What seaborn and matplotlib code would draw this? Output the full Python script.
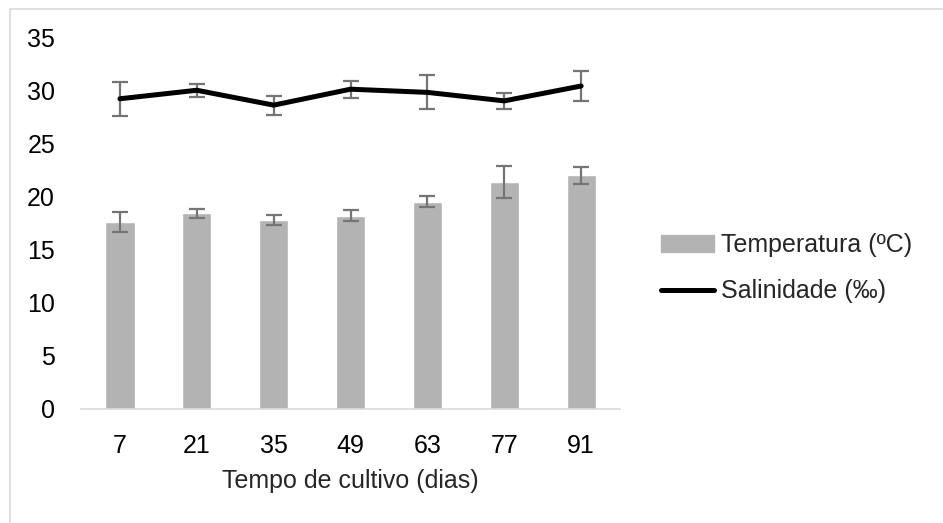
import numpy as np
import pandas as pd
import matplotlib
matplotlib.use("Agg")
import matplotlib.pyplot as plt
import matplotlib.patches as mpatches
from matplotlib.lines import Line2D
import seaborn as sns

# data
dias = ["7", "21", "35", "49", "63", "77", "91"]
temperatura = [17.6, 18.4, 17.8, 18.2, 19.5, 21.4, 22.0]
temperatura_dp = [0.9, 0.4, 0.5, 0.5, 0.5, 1.5, 0.8]
salinidade = [29.2, 30.0, 28.6, 30.1, 29.8, 29.0, 30.4]
salinidade_dp = [1.6, 0.6, 0.9, 0.8, 1.6, 0.75, 1.4]

df = pd.DataFrame({
    "Dias": dias,
    "Temperatura": temperatura,
    "Temp_dp": temperatura_dp,
    "Salinidade": salinidade,
    "Sal_dp": salinidade_dp,
})
df["pos"] = np.arange(len(df))

sns.set_style("white")
plt.rcParams['font.family'] = ['Liberation Sans', 'DejaVu Sans']

fig = plt.figure(figsize=(9.43, 5.23), dpi=100)
ax = fig.add_axes([0.0864, 0.218, 0.5706, 0.711])

bar_color = "#b3b3b3"
err_color = "#757575"
fs = 18
lw = 3.6

sns.barplot(data=df, x="Dias", y="Temperatura", color=bar_color,
            width=0.38, saturation=1, ax=ax, errorbar=None)
ax.errorbar(df["pos"], df["Temperatura"], yerr=df["Temp_dp"], fmt="none",
            ecolor=err_color, elinewidth=1.6, capsize=5.5, capthick=1.6)

sns.lineplot(data=df, x="pos", y="Salinidade", color="black", linewidth=lw,
             ax=ax, sort=False, solid_capstyle="round")
ax.errorbar(df["pos"], df["Salinidade"], yerr=df["Sal_dp"], fmt="none",
            ecolor=err_color, elinewidth=1.6, capsize=5.5, capthick=1.6,
            zorder=1)

ax.set_xlim(-0.5, len(dias) - 0.5)
ax.set_ylim(0, 35)
ax.set_yticks(range(0, 36, 5))
ax.set_xticks(df["pos"])
ax.set_xticklabels(dias)
ax.tick_params(axis="both", length=0, labelsize=fs, colors="black")
ax.tick_params(axis="x", pad=18)
ax.tick_params(axis="y", pad=19)
ax.set_xlabel("Tempo de cultivo (dias)", fontsize=fs, labelpad=8)
ax.set_ylabel("")

for side in ["top", "right", "left"]:
    ax.spines[side].set_visible(False)
ax.spines["bottom"].set_color("#d9d9d9")
ax.spines["bottom"].set_linewidth(1.2)

handles = [
    mpatches.Patch(color=bar_color, label="Temperatura (ºC)"),
    Line2D([0], [0], color="black", linewidth=lw, label="Salinidade (‰)"),
]
fig.legend(handles=handles, loc="center left", bbox_to_anchor=(0.701, 0.487),
           frameon=False, fontsize=fs, handlelength=2.1, handletextpad=0.3,
           labelspacing=0.89, borderaxespad=0, borderpad=0)

# thin outer frame like the source image
fig.patches.append(mpatches.Rectangle((10 / 943, -0.1), 1.2, 1.1 - 9 / 523,
                                      transform=fig.transFigure, fill=False,
                                      edgecolor="#d9d9d9", linewidth=1.2))

fig.savefig("out.png", dpi=100)
